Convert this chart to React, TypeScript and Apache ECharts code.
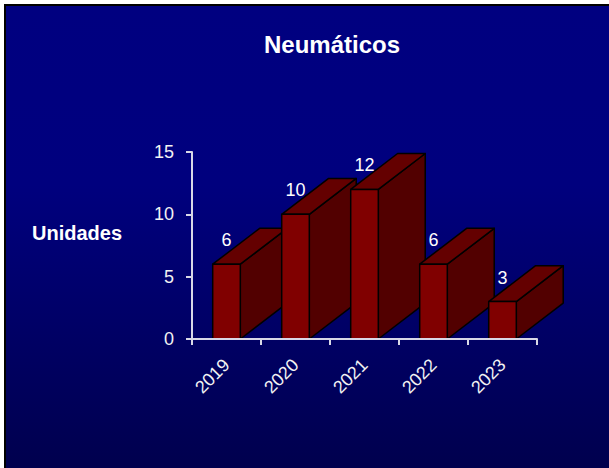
import React, { useEffect, useRef } from "react";
import * as echarts from "echarts";

const years = ["2019", "2020", "2021", "2022", "2023"];
const units = [6, 10, 12, 6, 3];
const yTicks = { min: 0, max: 15, interval: 5 };
const titleText = "Neumáticos";
const yName = "Unidades";

export default function App() {
  const ref = useRef<HTMLDivElement>(null);
  useEffect(() => {
    if (!ref.current) return;
    const chart = echarts.init(ref.current, undefined, { renderer: "svg" });
    const font = '"Liberation Sans", Arial, sans-serif';
    chart.setOption({
      animation: false,
      backgroundColor: "#ffffff",
      title: {
        text: titleText,
        left: 327,
        top: 27,
        textAlign: "center",
        textStyle: { color: "#ffffff", fontSize: 24, fontWeight: "bold", fontFamily: font },
      },
      graphic: [
        {
          type: "rect",
          z: -10,
          silent: true,
          shape: { x: 5, y: 5, width: 700, height: 600 },
          style: {
            fill: new echarts.graphic.LinearGradient(0, 0, 0, 1, [
              { offset: 0, color: "#000080" },
              { offset: 0.3, color: "#00007e" },
              { offset: 0.75, color: "#000050" },
              { offset: 1, color: "#000034" },
            ]),
            stroke: "#000000",
            lineWidth: 2,
          },
        },
        {
          type: "text",
          x: 77,
          y: 233,
          style: {
            text: yName,
            fill: "#ffffff",
            font: `bold 20px ${font}`,
            textAlign: "center",
            textVerticalAlign: "middle",
            align: "center",
            verticalAlign: "middle",
          },
        },
      ],
      grid: { left: 192, right: 72, top: 152, bottom: 129, containLabel: false },
      xAxis: {
        type: "category",
        data: years,
        z: 3,
        axisLine: { lineStyle: { color: "#d8d8e6", width: 2 } },
        axisTick: { show: true, length: 6, lineStyle: { color: "#d8d8e6", width: 2 } },
        axisLabel: { rotate: 45, color: "#f2f2f2", fontSize: 18, fontFamily: font, margin: 23 },
      },
      yAxis: {
        type: "value",
        min: yTicks.min,
        max: yTicks.max,
        interval: yTicks.interval,
        splitLine: { show: false },
        axisLine: { show: true, lineStyle: { color: "#d8d8e6", width: 2 } },
        axisTick: { show: true, length: 6, lineStyle: { color: "#d8d8e6", width: 2 } },
        axisLabel: { color: "#f2f2f2", fontSize: 18, fontFamily: font, margin: 18 },
      },
      series: [
        {
          type: "custom",
          clip: false,
          z: 2,
          data: units.map((v, i) => [i, v]),
          renderItem: (params: any, api: any) => {
            const xi = api.value(0);
            const v = api.value(1);
            const top = api.coord([xi, v]);
            const base = api.coord([xi, 0]);
            const band = api.size([1, 0])[0];
            const w = band * 0.4;
            const dx = band * 0.68;
            const dy = -band * 0.52;
            const l = top[0] - w / 2;
            const r = top[0] + w / 2;
            const ty = top[1];
            const by = base[1];
            const stroke = { stroke: "#000000", lineWidth: 1.5, lineJoin: "round" };
            return {
              type: "group",
              children: [
                {
                  type: "polygon",
                  shape: { points: [[r, ty], [r + dx, ty + dy], [r + dx, by + dy], [r, by]] },
                  style: { fill: "#520000", ...stroke },
                },
                {
                  type: "polygon",
                  shape: { points: [[l, ty], [r, ty], [r + dx, ty + dy], [l + dx, ty + dy]] },
                  style: { fill: "#640000", ...stroke },
                },
                {
                  type: "rect",
                  shape: { x: l, y: ty, width: w, height: by - ty },
                  style: { fill: "#800000", ...stroke },
                },
                {
                  type: "text",
                  x: top[0],
                  y: ty - 24,
                  style: {
                    text: String(v),
                    fill: "#ffffff",
                    font: `18px ${font}`,
                    textAlign: "center",
                    textVerticalAlign: "middle",
                    align: "center",
                    verticalAlign: "middle",
                  },
                },
              ],
            };
          },
        },
      ],
    });
    return () => chart.dispose();
  }, []);
  return (
    <div
      ref={ref}
      style={{ position: "fixed", left: 0, top: 0, width: 609, height: 468 }}
    />
  );
}
